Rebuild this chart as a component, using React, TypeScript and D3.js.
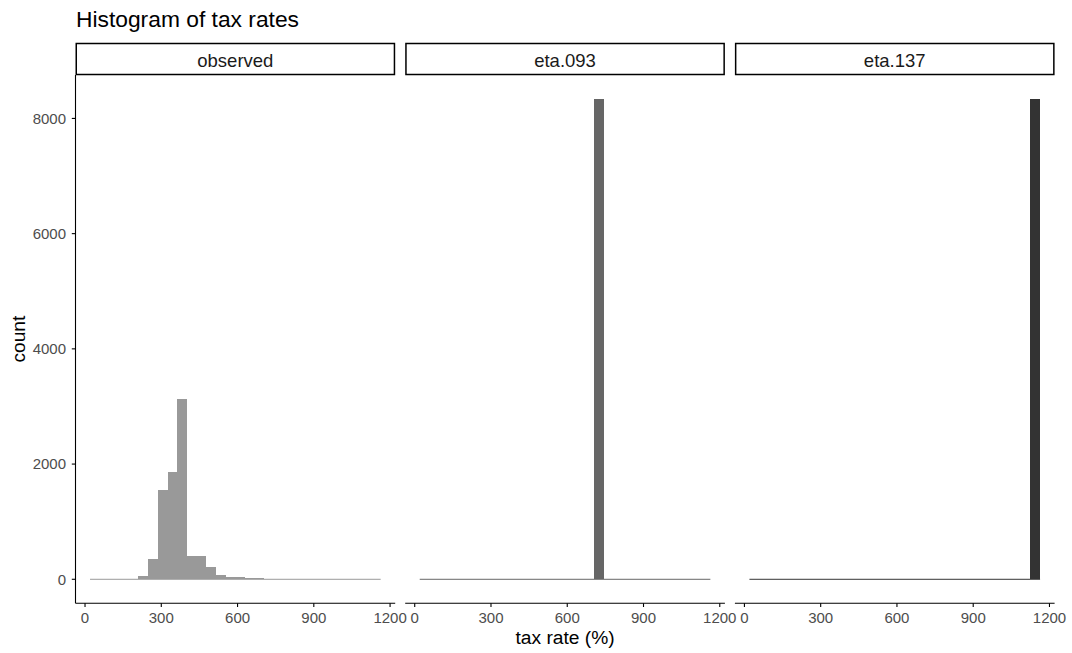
import React from 'react'
import * as d3 from 'd3'

// facet names and fill for each
const panels = ['observed', 'eta.093', 'eta.137']
const fills = ['#999999', '#666666', '#333333']

// 30 bins shared by every panel
const binLow = 19.7
const binWidth = 38.11

// counts per bin
const observed = [0, 0, 0, 3, 10, 63, 353, 1553, 1866, 3136, 405, 405, 209, 75, 40, 40, 17, 17, 12, 10, 8, 8, 6, 5, 4, 4, 3, 2, 2, 1]
const eta093 = [0, 0, 0, 0, 0, 0, 0, 0, 0, 0, 0, 0, 0, 0, 0, 0, 0, 0, 8337, 0, 0, 0, 0, 0, 0, 0, 0, 0, 0, 0]
const eta137 = [0, 0, 0, 0, 0, 0, 0, 0, 0, 0, 0, 0, 0, 0, 0, 0, 0, 0, 0, 0, 0, 0, 0, 0, 0, 0, 0, 0, 0, 8337]
const series = [observed, eta093, eta137]

const xTicks = [0, 300, 600, 900, 1200]
const yTicks = [0, 2000, 4000, 6000, 8000]

const font = '"Liberation Sans", Arial, Helvetica, sans-serif'

const App = () => {
    const width = 1072
    const height = 653
    const left = 75.5
    const top = 75
    const bottom = 603.3
    const panelW = 319.7
    const gap = 10

    const binHigh = binLow + binWidth * 30
    const xPad = (binHigh - binLow) * 0.05
    const yMax = d3.max(series.flat()) as number

    const x = d3.scaleLinear().domain([binLow - xPad, binHigh + xPad]).range([0, panelW])
    const y = d3.scaleLinear().domain([-yMax * 0.05, yMax * 1.05]).range([bottom, top])

    return (
        <svg width={width} height={height} style={{ position: 'absolute', left: 0, top: 0, fontFamily: font }}>
            <rect width={width} height={height} fill="#fff" />
            <text x={76} y={27.3} fontSize={22.8} fill="#000">Histogram of tax rates</text>

            {panels.map((name, p) => {
                const px = left + p * (panelW + gap)
                const counts = series[p]
                return (
                    <g key={name} transform={`translate(${px},0)`}>
                        <rect x={0.75} y={43.5} width={panelW - 1.5} height={31} fill="#fff" stroke="#000" strokeWidth={1.5} />
                        <text x={panelW / 2} y={66.5} textAnchor="middle" fontSize={18.5} fill="#1a1a1a">{name}</text>

                        <line x1={x(binLow)} x2={x(binHigh)} y1={y(0)} y2={y(0)} stroke={fills[p]} strokeWidth={1} />
                        <g shapeRendering="crispEdges">
                            {counts.map((c, i) => {
                                const x0 = x(binLow + i * binWidth)
                                const x1 = x(binLow + (i + 1) * binWidth)
                                return c > 0 ? (
                                    <rect key={i} x={x0} width={x1 - x0} y={y(c)} height={y(0) - y(c)} fill={fills[p]} />
                                ) : null
                            })}
                        </g>

                        <line x1={0} x2={panelW} y1={bottom} y2={bottom} stroke="#000" strokeWidth={1.1} />
                        {xTicks.map(t => (
                            <g key={t} transform={`translate(${x(t)},${bottom})`}>
                                <line y1={0} y2={3.7} stroke="#000" strokeWidth={1.1} />
                                <text y={19.8} textAnchor="middle" fontSize={15} fill="#4d4d4d">{t}</text>
                            </g>
                        ))}

                        {p === 0 && (
                            <g>
                                <line x1={0} x2={0} y1={top} y2={bottom} stroke="#000" strokeWidth={1.1} />
                                {yTicks.map(t => (
                                    <g key={t} transform={`translate(0,${y(t)})`}>
                                        <line x1={-3.7} x2={0} stroke="#000" strokeWidth={1.1} />
                                        <text x={-9.5} dy="0.36em" textAnchor="end" fontSize={15} fill="#4d4d4d">{t}</text>
                                    </g>
                                ))}
                            </g>
                        )}
                    </g>
                )
            })}

            <text x={left + (3 * panelW + 2 * gap) / 2} y={644} textAnchor="middle" fontSize={19.2} fill="#000">tax rate (%)</text>
            <text transform={`translate(25,${(top + bottom) / 2}) rotate(-90)`} textAnchor="middle" fontSize={19.2} fill="#000">count</text>
        </svg>
    )
}

export default App
